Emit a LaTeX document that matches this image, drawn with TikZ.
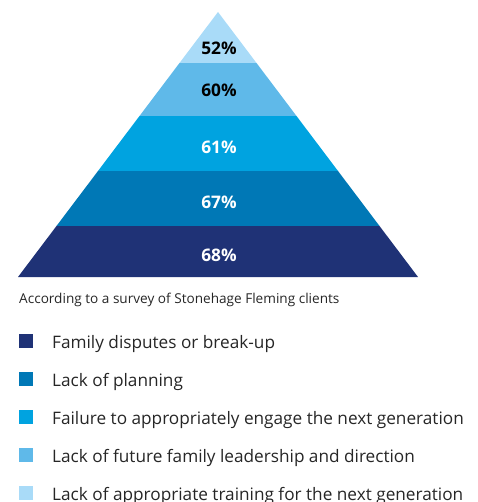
\documentclass[tikz,border=0pt]{standalone}
\usepackage{fontspec}
\setmainfont{Open Sans}
\definecolor{cA}{HTML}{1F3276}
\definecolor{cB}{HTML}{0078B6}
\definecolor{cC}{HTML}{00A3E0}
\definecolor{cD}{HTML}{5FB9E9}
\definecolor{cE}{HTML}{A9DBF8}
\begin{document}
\begin{tikzpicture}[x=1pt,y=-1pt,
  pct/.style={font=\fontsize{17.3}{17.3}\selectfont\bfseries, anchor=base},
  legsq/.style={minimum width=14pt, minimum height=14pt, inner sep=0pt, anchor=south west},
  legtxt/.style={font=\fontsize{17.2}{17.2}\selectfont, text=black!85, anchor=base west, inner sep=0pt}]
\useasboundingbox (0,0) rectangle (477,502);
% pyramid: apex (218,12), base 18..418 at y=277
\foreach \ya/\yb/\col in {226/277/cA,171/226/cB,116/171/cC,63/116/cD,12/63/cE}{
  \pgfmathsetmacro\wa{(\ya-12)/265*200}
  \pgfmathsetmacro\wb{(\yb-12)/265*200}
  \fill[\col] (218-\wa,\ya) -- (218+\wa,\ya) -- (218+\wb,\yb) -- (218-\wb,\yb) -- cycle;
}
\node[pct, text=black] (p52) at (219,55) {52\%};
\node[pct, text=black] (p60) at (219,97) {60\%};
\node[pct, text=white] (p61) at (219,154) {61\%};
\node[pct, text=white] (p67) at (219,209) {67\%};
\node[pct, text=white] (p68) at (219,261) {68\%};
\node[font=\fontsize{13.6}{13.6}\selectfont, text=black!85, anchor=base west, inner sep=0pt] (cap) at (19,303) {According to a survey of Stonehage Fleming clients};
\foreach \n/\y/\col/\t in {1/348/cA/{Family disputes or break-up},2/386/cB/{Lack of planning},3/424/cC/{Failure to appropriately engage the next generation},4/462/cD/{Lack of future family leadership and direction},5/500/cE/{Lack of appropriate training for the next generation}}{
  \node[legsq, fill=\col] (s\n) at (19,\y) {};
  \node[legtxt] (t\n) at (52,\y) {\t};
}
\end{tikzpicture}
\end{document}
